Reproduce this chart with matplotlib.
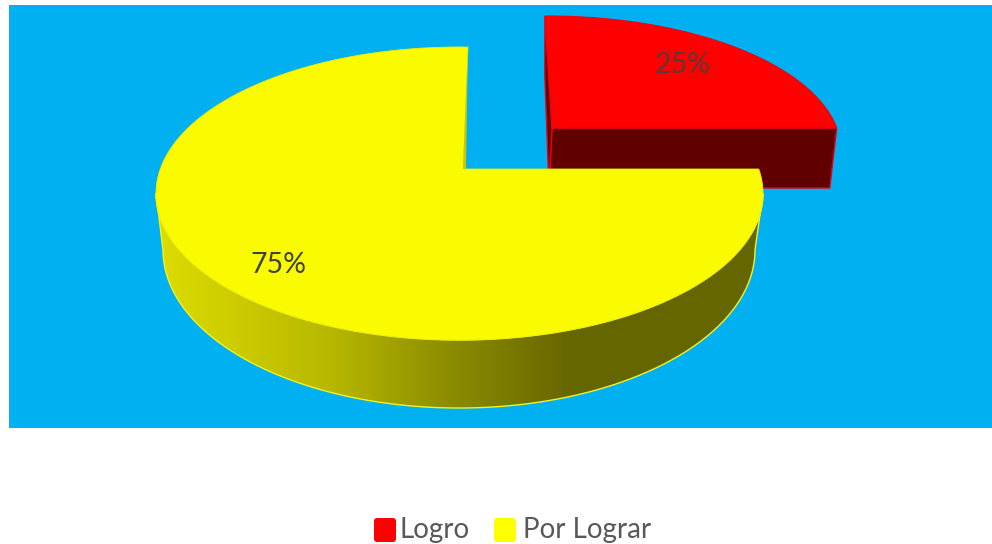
import numpy as np
import matplotlib
matplotlib.use("Agg")
import matplotlib.pyplot as plt
from matplotlib.patches import Polygon, Rectangle, FancyBboxPatch
from matplotlib.colors import LinearSegmentedColormap

labels = ["Logro", "Por Lograr"]
values = [25, 75]
pct_labels = ["25%", "75%"]
colors = ["#ff0000", "#ffff00"]

plt.rcParams['font.family'] = ['Lato', 'DejaVu Sans']

W, H = 992, 544
fig = plt.figure(figsize=(W / 100, H / 100), dpi=100)
ax = fig.add_axes([0, 0, 1, 1])
ax.set_xlim(0, W)
ax.set_ylim(H, 0)
ax.axis("off")

#plot area background
ax.add_patch(Rectangle((9, 5), W - 9, 423, fc="#00b0f0", ec="none", zorder=0))

#each disc: apex, ellipse centre, rx, ry, lean (excel fakes perspective so the apex is off centre)
red_top = ((552, 128), (547, 151), 294, 135, -8.5)
red_bottom = ((549, 188), (544, 211), 290, 135, -5)
yellow_top = ((463, 169), (459.5, 193.5), 303.5, 146.5, 6)
yellow_bottom = ((461, 238), (459, 250), 296, 158, 6)


def rim(disc, theta):
    """Where the ray from the apex at pie angle theta (degrees, clockwise from 12) hits the ellipse"""
    (ax0, ay0), (cx, cy), rx, ry, lean = disc
    t = np.radians(np.atleast_1d(theta))
    dx, dy = np.sin(t) * rx + np.cos(t) * lean, -np.cos(t) * ry
    px, py = (ax0 - cx) / rx, (ay0 - cy) / ry
    ux, uy = dx / rx, dy / ry
    a = ux * ux + uy * uy
    b = 2 * (px * ux + py * uy)
    c = px * px + py * py - 1
    s = (-b + np.sqrt(b * b - 4 * a * c)) / (2 * a)
    return np.column_stack([ax0 + s * dx, ay0 + s * dy])


def wedge(disc, start, end):
    arc = rim(disc, np.linspace(start, end, 200))
    return np.vstack([[disc[0]], arc])


#pie angles come from the values
edges = np.cumsum([0] + values) / sum(values) * 360

#red slice, sits behind
r0, r1 = edges[0], edges[1]
p = rim(red_top, r1)[0]
q = rim(red_bottom, r1)[0]
ax.add_patch(Polygon([red_top[0], p, q, red_bottom[0]], fc="#600000", ec="#e0001a", lw=1, zorder=2))
ax.add_patch(Polygon([rim(red_top, r0)[0], red_top[0], red_bottom[0], rim(red_bottom, r0)[0]],
                     fc="#600000", ec="#e0001a", lw=1, zorder=2))
ax.add_patch(Polygon(wedge(red_top, r0, r1), fc=colors[0], ec="#f00010", lw=0.8, zorder=3))

#yellow side wall with the horizontal gradient
t = np.linspace(0, np.pi, 300)
(_, (cx, cy), rx, ry, _) = yellow_top
upper = np.column_stack([cx + rx * np.cos(t), cy + ry * np.sin(t)])
(_, (cx, cy), rx, ry, _) = yellow_bottom
lower = np.column_stack([cx + rx * np.cos(t), cy + ry * np.sin(t)])
side = Polygon(np.vstack([upper, lower[::-1]]), fc="none", ec="#f4f420", lw=1, zorder=5)
ax.add_patch(side)
side_cmap = LinearSegmentedColormap.from_list("side", [
    (0.0, "#dcdc00"), (0.28, "#b8b800"), (0.48, "#8c8c00"), (0.68, "#666600"), (1.0, "#666600")])
grad = ax.imshow(np.linspace(0, 1, 256)[None, :], extent=(160, 765, 420, 170), cmap=side_cmap,
                 aspect="auto", zorder=4)
grad.set_clip_path(side)
ax.set_xlim(0, W)
ax.set_ylim(H, 0)

#yellow inner wall, only a sliver shows
y0, y1 = edges[1], edges[2]
tip = rim(yellow_top, y1)[0]
ax.add_patch(Polygon([tip, (yellow_top[0][0] + 3, yellow_top[0][1]), yellow_top[0]],
                     fc="#c8c800", ec="none", zorder=8))
ax.add_patch(Polygon(wedge(yellow_top, y0, y1), fc="#fbfb00", ec="#f0f000", lw=0.6, zorder=7))

#data labels
ax.text(683, 65, pct_labels[0], fontsize=20.5, color="#5a3a36", ha="center", va="center", zorder=9)
ax.text(279, 265, pct_labels[1], fontsize=20.5, color="#404040", ha="center", va="center", zorder=9)

#legend
for x, tx, name, c in zip([374, 494], [400, 523], labels, colors):
    ax.add_patch(FancyBboxPatch((x + 3, 521), 16, 18, boxstyle="round,pad=3,rounding_size=3",
                                fc=c, ec="none", zorder=9))
    ax.text(tx, 530, name, fontsize=20, color="#595959", ha="left", va="center", zorder=9)

fig.savefig("out.png", dpi=100, facecolor="white")
